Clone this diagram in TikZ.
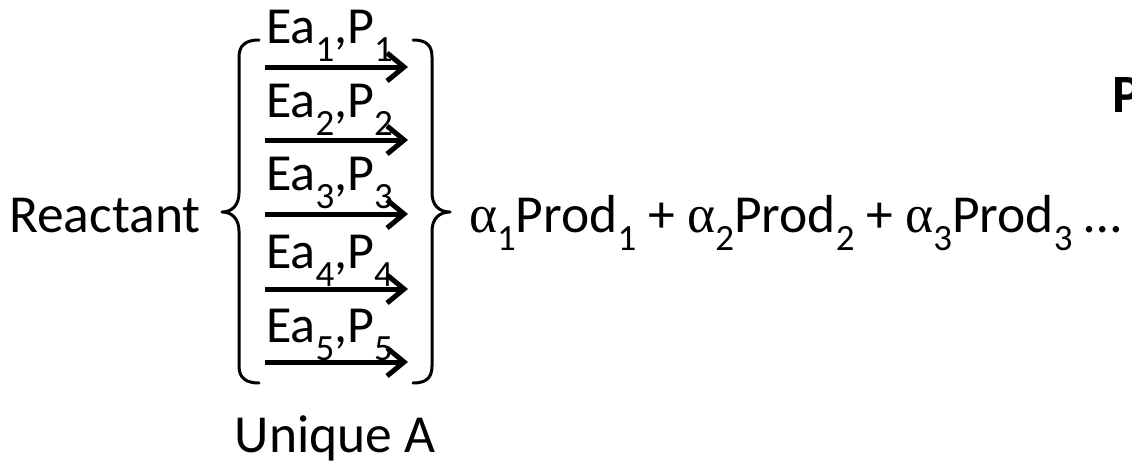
\documentclass[tikz,border=0pt]{standalone}
\usepackage{fontspec}
\setmainfont{Carlito}
\newfontfamily\greekfont{Liberation Serif}
\usetikzlibrary{arrows.meta}
\newcommand{\msub}[1]{\raisebox{-18pt}{\fontsize{37}{37}\selectfont #1}}
\newcommand{\lsub}[1]{\raisebox{-18pt}{\fontsize{37}{37}\selectfont #1}}
\newcommand{\alp}{{\greekfont α}}
\begin{document}
\begin{tikzpicture}[x=1pt,y=-1pt,
  maintext/.style={inner sep=0pt,font=\fontsize{53.5}{53.5}\selectfont},
  labeltext/.style={inner sep=0pt,font=\fontsize{52}{52}\selectfont,anchor=base west},
  rxarrow/.style={line width=5pt,-{Straight Barb[length=17pt,width=28pt,line width=5pt]}},
  bracepath/.style={line width=3pt,line cap=round,line join=round}]
\useasboundingbox (0,0) rectangle (1132,464);

\node[maintext,anchor=base west] (reactant) at (9,232) {Reactant};

% arrows and labels
\foreach \i/\ay/\by in {1/67/43, 2/140/117, 3/214/190, 4/289/268, 5/362/342}{
  \coordinate (s\i) at (265,\ay);
  \coordinate (e\i) at (408,\ay);
  \draw[rxarrow] (s\i) -- (e\i);
  \node[labeltext] (lab\i) at (266,\by) {Ea\lsub{\i},P\lsub{\i}};
}

% left brace
\draw[bracepath] (259,40) .. controls (246,40) and (239,45) .. (239,57)
  -- (239,193) .. controls (239,205) and (232,212) .. (222,212)
  .. controls (232,212) and (239,219) .. (239,231)
  -- (239,366) .. controls (239,378) and (246,383) .. (259,383);
% right brace
\draw[bracepath] (413,40) .. controls (426,40) and (432,45) .. (432,57)
  -- (432,193) .. controls (432,205) and (439,212) .. (450,212)
  .. controls (439,212) and (432,219) .. (432,231)
  -- (432,366) .. controls (432,378) and (426,383) .. (413,383);

\node[maintext,anchor=base west] (prods) at (469,232)
  {\alp\msub{1}Prod\msub{1} + \alp\msub{2}Prod\msub{2} + \alp\msub{3}Prod\msub{3} …};

\node[maintext,anchor=base] (unique) at (335,452) {Unique A};

\node[inner sep=0pt,anchor=base west,font=\fontsize{54}{54}\selectfont\bfseries] (pcut) at (1112,112) {P};
\end{tikzpicture}
\end{document}
